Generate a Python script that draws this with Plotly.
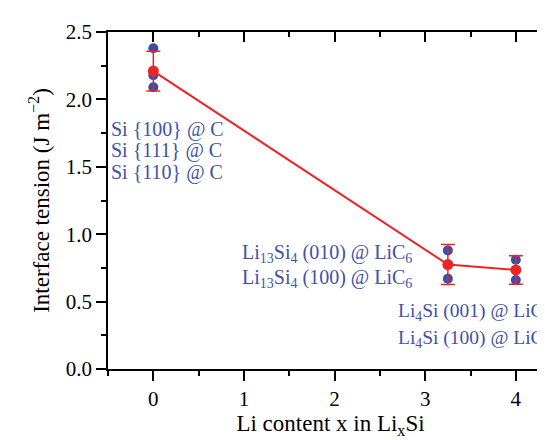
import plotly.graph_objects as go

# Data
x_raw = [0, 0, 0, 3.25, 3.25, 4, 4]
y_raw = [2.38, 2.18, 2.09, 0.88, 0.67, 0.81, 0.66]
x_mean = [0, 3.25, 4]
y_mean = [2.21, 0.775, 0.735]
y_err = [0.148, 0.148, 0.106]

labels_si = ["Si {100} @ C", "Si {111} @ C", "Si {110} @ C"]
labels_li13 = ["Li<sub>13</sub>Si<sub>4</sub> (010) @ LiC<sub>6</sub>",
               "Li<sub>13</sub>Si<sub>4</sub> (100) @ LiC<sub>6</sub>"]
labels_li4 = ["Li<sub>4</sub>Si (001) @ LiC<sub>6</sub>",
              "Li<sub>4</sub>Si (100) @ LiC<sub>6</sub>"]

BLUE = "#3a4ea6"
RED = "#ee2424"
LBL = "#3f52a8"
FONT = "Liberation Serif"
XR = [-0.5, 4.41]

fig = go.Figure()
fig.add_trace(go.Scatter(x=x_raw, y=y_raw, mode="markers",
                         marker=dict(color=BLUE, size=10), showlegend=False))
fig.add_trace(go.Scatter(x=x_mean, y=y_mean, mode="lines+markers",
                         line=dict(color=RED, width=2),
                         marker=dict(color=RED, size=11),
                         error_y=dict(type="data", array=y_err, color=RED,
                                      thickness=1.5, width=7),
                         showlegend=False))

ann = []
for i, t in enumerate(labels_si):
    ann.append(dict(x=-0.49, y=1.78 - i * 0.16, text=t, size=20))
for i, t in enumerate(labels_li13):
    ann.append(dict(x=0.955, y=0.855 - i * 0.18, text=t, size=20))
for i, t in enumerate(labels_li4):
    ann.append(dict(x=2.68, y=0.42 - i * 0.195, text=t, size=19.5))
for a in ann:
    s = a.pop("size")
    a.update(xref="x", yref="y", xanchor="left", yanchor="middle",
             showarrow=False, font=dict(family=FONT, size=s, color=LBL))

tk = dict(showgrid=False, zeroline=False, tickcolor="black", tickwidth=1.5)
fig.update_layout(
    width=545, height=440,
    margin=dict(l=100, r=0, t=24, b=79),
    paper_bgcolor="white", plot_bgcolor="white",
    font=dict(family=FONT, size=21, color="black"),
    annotations=ann,
    xaxis=dict(range=XR, dtick=1, tick0=0, **tk,
               showline=True, linecolor="black", linewidth=1.5,
               ticks="outside", ticklen=10,
               minor=dict(dtick=0.5, ticks="outside", ticklen=5, tickwidth=1.5, tickcolor="black"),
               title=dict(text="Li content x in Li<sub>x</sub>Si", standoff=5,
                          font=dict(family=FONT, size=23))),
    xaxis2=dict(range=XR, dtick=1, tick0=0, overlaying="x", side="top", **tk,
                showticklabels=False,
                showline=True, linecolor="black", linewidth=1.5,
                ticks="inside", ticklen=10,
                minor=dict(dtick=0.5, ticks="inside", ticklen=5, tickwidth=1.5, tickcolor="black")),
    yaxis=dict(range=[0, 2.5], dtick=0.5, tick0=0, tickformat=".1f", **tk,
               showline=True, linecolor="black", linewidth=1.5,
               ticks="outside", ticklen=10,
               minor=dict(dtick=0.25, ticks="outside", ticklen=5, tickwidth=1.5, tickcolor="black"),
               title=dict(text="Interface tension (J m<sup>\u22122</sup>)", standoff=10,
                          font=dict(family=FONT, size=23))),
    yaxis2=dict(range=[0, 2.5], dtick=0.5, tick0=0, overlaying="y", side="right", **tk,
                showticklabels=False, showline=False,
                ticks="inside", ticklen=2),
)
# dummy traces to show the top and right axes
fig.add_trace(go.Scatter(x=[None], y=[None], xaxis="x2", showlegend=False))
fig.add_trace(go.Scatter(x=[None], y=[None], yaxis="y2", showlegend=False))

fig.write_html("out.html")
